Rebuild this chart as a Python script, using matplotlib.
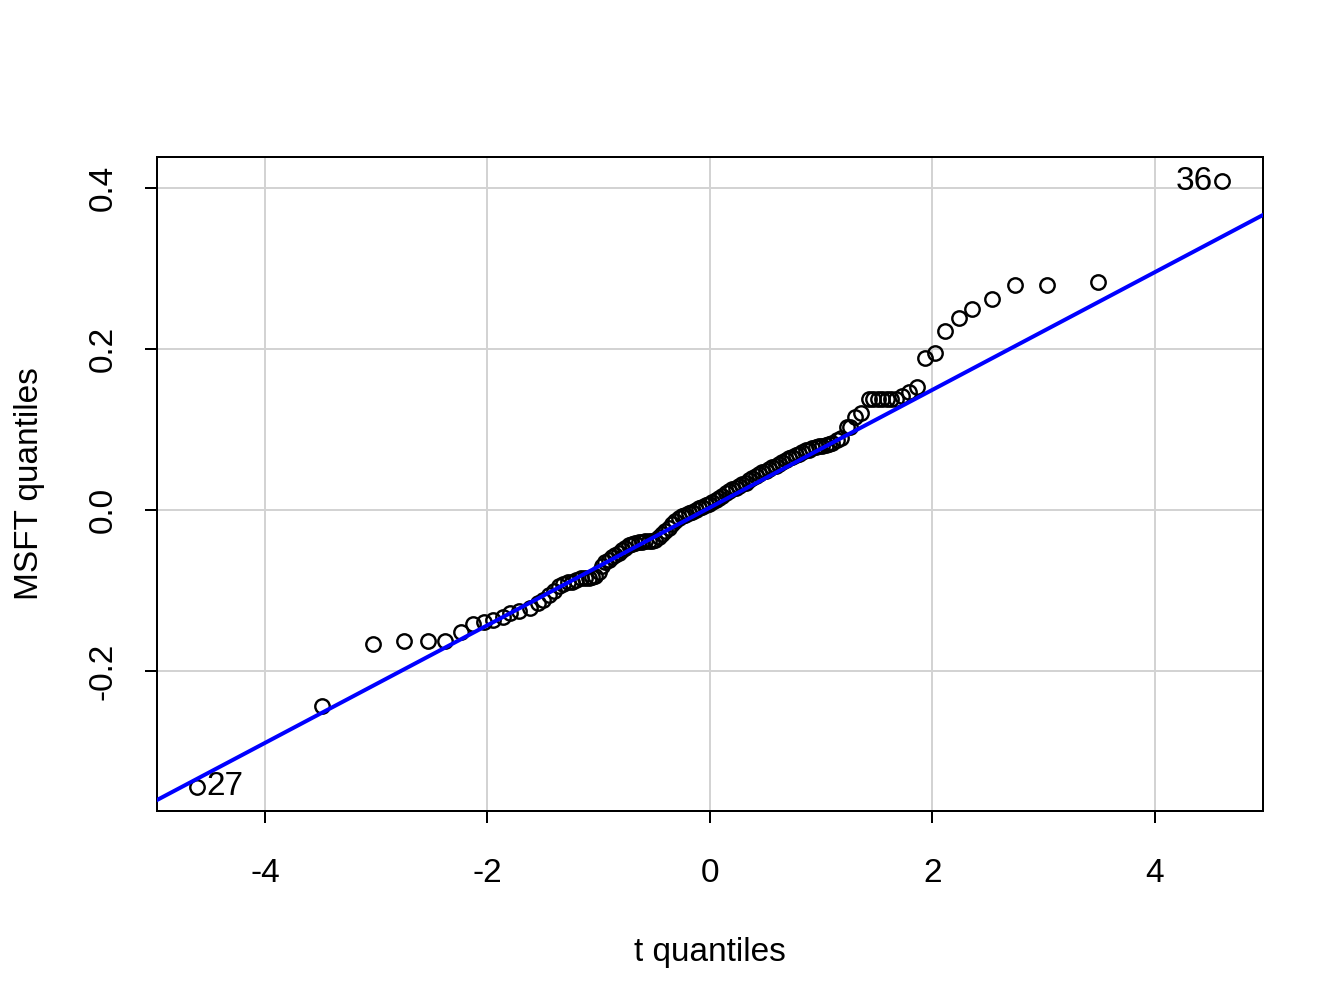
import matplotlib
matplotlib.use("Agg")
import matplotlib.pyplot as plt

plt.rcParams['font.family'] = ['Liberation Sans', 'DejaVu Sans']

# t quantiles (x) and sorted MSFT returns (y)
t_q = [-4.607, -3.49, -3.03, -2.748, -2.538, -2.38, -2.24, -2.128, -2.03, -1.95,
       -1.863, -1.80, -1.72, -1.62, -1.55,
       -1.50, -1.45, -1.40, -1.36, -1.32, -1.28, -1.24, -1.20, -1.16, -1.12,
       -1.09, -1.06, -1.03, -1.00, -0.97, -0.94, -0.91, -0.88, -0.85, -0.82,
       -0.79, -0.76, -0.73, -0.70, -0.67, -0.64, -0.61, -0.58, -0.55, -0.52,
       -0.49, -0.46, -0.43, -0.40, -0.37, -0.34, -0.31, -0.28, -0.25, -0.22,
       -0.19, -0.16, -0.13, -0.10, -0.07, -0.04, -0.01, 0.02, 0.05, 0.08,
       0.11, 0.14, 0.17, 0.20, 0.23, 0.26, 0.29, 0.32, 0.35, 0.38,
       0.41, 0.44, 0.47, 0.50, 0.53, 0.56, 0.59, 0.62, 0.65, 0.68,
       0.71, 0.74, 0.77, 0.80, 0.83, 0.86, 0.89, 0.92, 0.95, 0.98,
       1.01, 1.04, 1.07, 1.10, 1.14, 1.18, 1.23, 1.26, 1.30, 1.355,
       1.43, 1.47, 1.51, 1.55, 1.59, 1.63, 1.67, 1.723, 1.786, 1.858,
       1.93, 2.02, 2.115, 2.235, 2.358, 2.532, 2.739, 3.026, 3.485, 4.60]
msft_q = [-0.3437, -0.2435, -0.1669, -0.1631, -0.1623, -0.1623, -0.151, -0.142, -0.139, -0.136,
          -0.133, -0.128, -0.126, -0.122, -0.116,
          -0.112, -0.106, -0.100, -0.094, -0.092, -0.090, -0.089, -0.087, -0.085, -0.084,
          -0.084, -0.083, -0.082, -0.077, -0.070, -0.065, -0.062, -0.058, -0.056, -0.053,
          -0.050, -0.047, -0.044, -0.042, -0.041, -0.040, -0.040, -0.039, -0.039, -0.038,
          -0.037, -0.034, -0.030, -0.026, -0.022, -0.017, -0.013, -0.010, -0.008, -0.006,
          -0.004, -0.002, 0.000, 0.002, 0.004, 0.006, 0.008, 0.010, 0.012, 0.015,
          0.018, 0.021, 0.024, 0.026, 0.028, 0.030, 0.032, 0.034, 0.037, 0.040,
          0.042, 0.045, 0.047, 0.049, 0.051, 0.053, 0.055, 0.057, 0.060, 0.062,
          0.065, 0.066, 0.068, 0.070, 0.072, 0.074, 0.075, 0.077, 0.078, 0.079,
          0.080, 0.081, 0.082, 0.083, 0.087, 0.090, 0.1027, 0.1035, 0.116, 0.120,
          0.1375, 0.1375, 0.1375, 0.1375, 0.1375, 0.1375, 0.1375, 0.1416, 0.147, 0.153,
          0.189, 0.1946, 0.2228, 0.239, 0.250, 0.2625, 0.279, 0.280, 0.2832, 0.4087]

# reference line (qqline): intercept and slope
line_a = 0.00315
line_b = 0.0731

# labelled extreme observations
labels = ["27", "36"]
label_idx = [0, len(t_q) - 1]

xticks = [-4, -2, 0, 2, 4]
yticks = [-0.2, 0.0, 0.2, 0.4]

fig = plt.figure(figsize=(7, 5.25), dpi=192)
ax = fig.add_axes([0.1168, 0.1954, 0.8229, 0.6488])
ax.set_xlim(-4.971, 4.971)
ax.set_ylim(-0.3739, 0.4385)

for x in xticks:
    ax.axvline(x, color='#d3d3d3', lw=0.75, zorder=0)
for y in yticks:
    ax.axhline(y, color='#d3d3d3', lw=0.75, zorder=0)

ax.plot(t_q, msft_q, 'o', ms=5.4, mfc='none', mec='black', mew=0.9, zorder=2)

xl = ax.get_xlim()
ax.plot(xl, [line_a + line_b * xl[0], line_a + line_b * xl[1]],
        color='blue', lw=1.5, zorder=3)

ax.text(t_q[label_idx[0]] + 0.08, msft_q[label_idx[0]], labels[0],
        ha='left', va='center', fontsize=12.5)
ax.text(t_q[label_idx[1]] - 0.08, msft_q[label_idx[1]], labels[1],
        ha='right', va='center', fontsize=12.5)

ax.set_xticks(xticks)
ax.set_xticklabels(['-4', '-2', '0', '2', '4'])
ax.set_yticks(yticks)
ax.set_yticklabels(['-0.2', '0.0', '0.2', '0.4'], rotation=90, va='center')
ax.tick_params(direction='out', length=4.5, width=0.75, labelsize=12.5, pad=13)
ax.tick_params(axis='y', pad=10)
for s in ax.spines.values():
    s.set_linewidth(0.75)

ax.set_xlabel('t quantiles', fontsize=12.5, labelpad=18)
ax.set_ylabel('MSFT quantiles', fontsize=12.5, labelpad=16)

fig.savefig('out.png', dpi=192)
